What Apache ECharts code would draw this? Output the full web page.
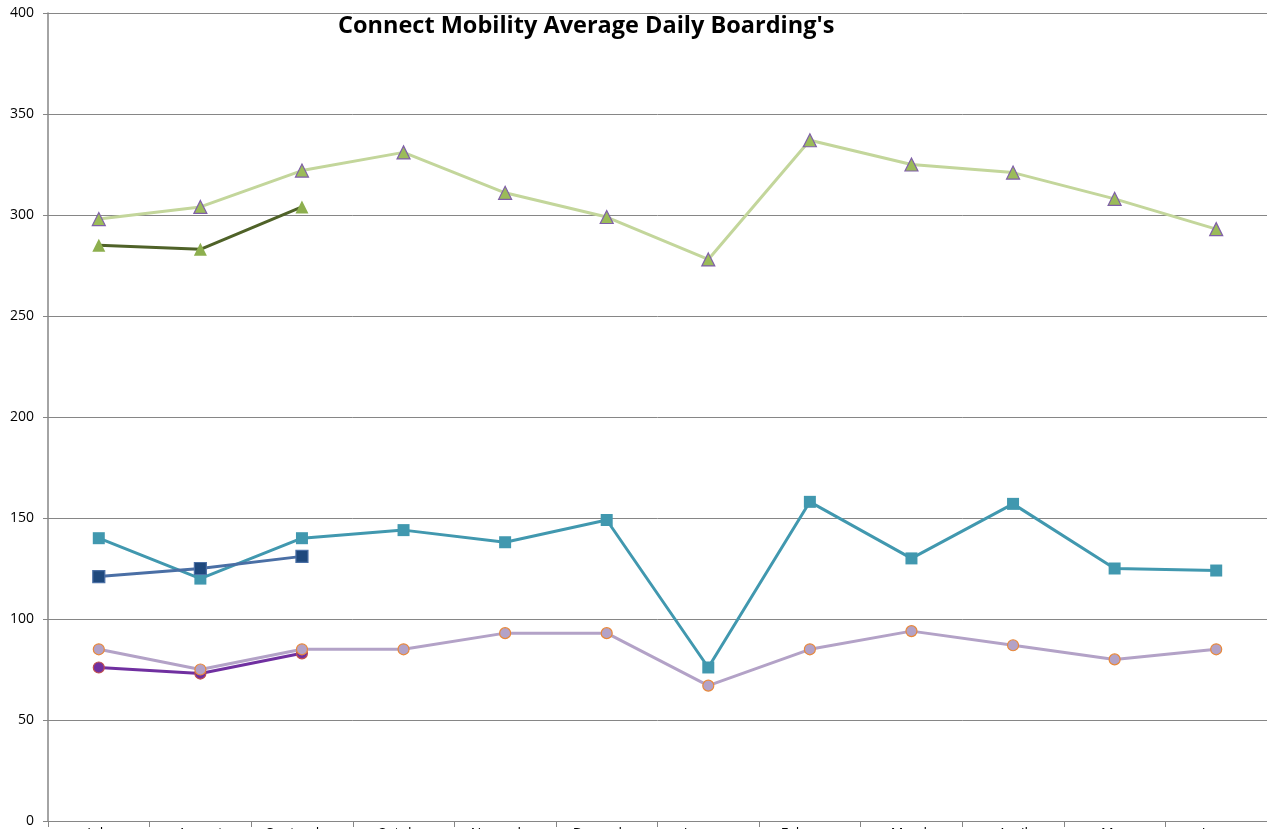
<!DOCTYPE html>
<html>
<head>
<meta charset="utf-8">
<script src="https://cdn.jsdelivr.net/npm/echarts@6/dist/echarts.min.js"></script>
<style>
  html, body { margin: 0; padding: 0; background: #fff; }
  #chart { width: 1267px; height: 829px; }
</style>
</head>
<body>
<div id="chart"></div>
<script>
var months = ['July', 'August', 'September', 'October', 'November', 'December',
              'January', 'February', 'March', 'April', 'May', 'June'];

// boardings by month, prior year (full) and current year (partial)
var totalPrev  = [298, 304, 322, 331, 311, 299, 278, 337, 325, 321, 308, 293];
var totalCurr  = [285, 283, 304];
var groupAPrev = [140, 120, 140, 144, 138, 149, 76, 158, 130, 157, 125, 124];
var groupACurr = [121, 125, 131];
var groupBPrev = [85, 75, 85, 85, 93, 93, 67, 85, 94, 87, 80, 85];
var groupBCurr = [76, 73, 83];

var yTicks = [0, 50, 100, 150, 200, 250, 300, 350, 400];

var chart = echarts.init(document.getElementById('chart'));

function line(name, data, lineColor, width, symbol, size, fill, border, z) {
    return {
        name: name,
        type: 'line',
        data: data,
        symbol: symbol,
        symbolSize: size,
        showSymbol: true,
        z: z,
        lineStyle: { color: lineColor, width: width },
        itemStyle: { color: fill, borderColor: border, borderWidth: border ? 1.2 : 0 },
        emphasis: { disabled: true }
    };
}

var option = {
    backgroundColor: '#fff',
    animation: false,
    title: {
        text: "Connect Mobility Average Daily Boarding's",
        left: 333,
        top: 9,
        textStyle: {
            fontFamily: 'Open Sans',
            fontWeight: 'bold',
            fontSize: 23.5,
            color: '#000'
        }
    },
    grid: {
        left: 48,
        right: 0,
        top: 13,
        bottom: 8,
        containLabel: false,
        outerBoundsMode: 'none'
    },
    xAxis: {
        type: 'category',
        data: months,
        boundaryGap: true,
        axisLine: { lineStyle: { color: '#868686', width: 1 } },
        axisTick: { show: true, alignWithLabel: false, length: 6, lineStyle: { color: '#868686' } },
        axisLabel: {
            margin: 6,
            fontFamily: 'Open Sans',
            fontSize: 14,
            color: '#000'
        },
        splitLine: { show: false }
    },
    yAxis: {
        type: 'value',
        min: yTicks[0],
        max: yTicks[yTicks.length - 1],
        interval: 50,
        axisLine: { show: true, lineStyle: { color: '#868686', width: 1.5 } },
        axisTick: { show: true, length: 5, lineStyle: { color: '#868686' } },
        axisLabel: {
            margin: 14,
            fontFamily: 'Open Sans',
            fontSize: 14,
            color: '#000'
        },
        splitLine: { lineStyle: { color: '#868686', width: 1 } }
    },
    series: [
        line('Total prior year', totalPrev, '#C3D69B', 3, 'triangle', 13, '#9BBB59', '#7F5FA8', 2),
        line('Total current year', totalCurr, '#4F6228', 3, 'triangle', 13, '#8DAF4E', null, 3),
        line('Group A prior year', groupAPrev, '#4198AF', 3, 'rect', 12, '#4198AF', null, 2),
        line('Group A current year', groupACurr, '#4A6FA5', 3, 'rect', 12, '#1F497D', '#4A6FA5', 3),
        line('Group B prior year', groupBPrev, '#B3A2C7', 3, 'circle', 11, '#B3A2C7', '#E8883A', 3),
        line('Group B current year', groupBCurr, '#7030A0', 3, 'circle', 11, '#7030A0', '#C0504D', 2)
    ]
};

chart.setOption(option);
</script>
</body>
</html>
